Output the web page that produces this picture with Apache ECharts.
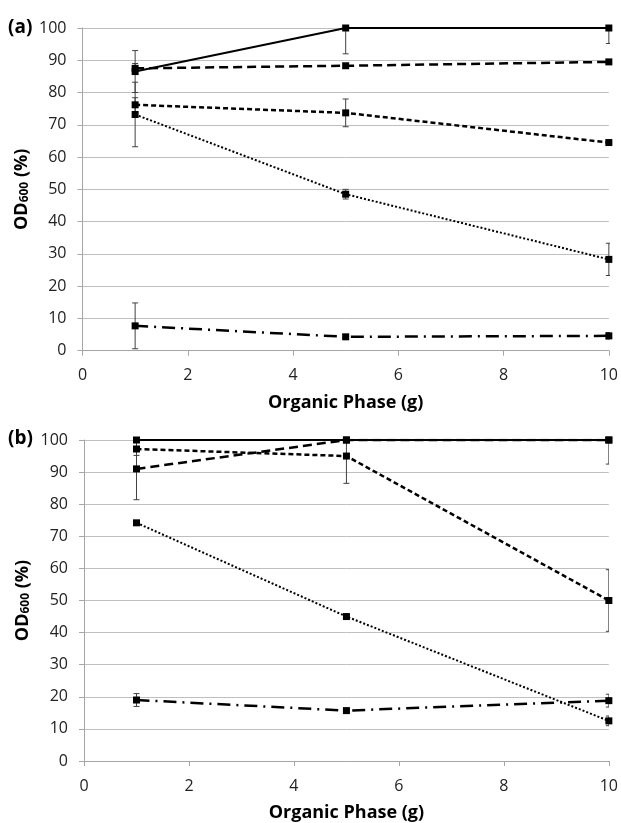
<!DOCTYPE html>
<html><head><meta charset="utf-8">
<script src="https://cdn.jsdelivr.net/npm/echarts@6/dist/echarts.min.js"></script>
<style>html,body{margin:0;padding:0;background:#fff}#c{width:621px;height:823px}</style>
</head><body><div id="c"></div>
<script>
const xVals = [1, 5, 10];
const xTicks = [0, 2, 4, 6, 8, 10];
const yTicks = [0, 10, 20, 30, 40, 50, 60, 70, 80, 90, 100];

// Panel (a)
const aSolid = [86.5, 100, 100];     const aSolidErr = [6.5, 8, 4.8];
const aLong = [87.5, 88.3, 89.5];    const aLongErr = [1.5, 0.5, 0.5];
const aMed = [76.2, 73.7, 64.5];     const aMedErr = [2.2, 4.3, 0.8];
const aDot = [73.2, 48.5, 28.3];     const aDotErr = [10, 1.5, 5];
const aDashDot = [7.7, 4.3, 4.6];    const aDashDotErr = [7.1, 0.5, 1];

// Panel (b)
const bSolid = [100, 100, 100];      const bSolidErr = [0.5, 0.5, 7.5];
const bLong = [91, 100, 100];        const bLongErr = [9.6, 0.5, 0.5];
const bMed = [97.2, 95, 50];         const bMedErr = [2, 8.5, 9.6];
const bDot = [74.2, 45, 12.5];       const bDotErr = [0.5, 0.5, 1.5];
const bDashDot = [19, 15.7, 18.8];   const bDashDotErr = [2, 0.5, 2];

const FONT = 'Open Sans';
const styles = {
  solid: {type: 'solid', width: 2},
  long: {type: [9, 5], width: 2.5},
  med: {type: [5, 3], width: 2.5},
  dot: {type: [2, 2], width: 2},
  dashdot: {type: [13, 6, 2, 6], width: 2.5}
};

function lineSeries(vals, style, gi) {
  return {
    type: 'line', xAxisIndex: gi, yAxisIndex: gi,
    data: xVals.map((x, i) => [x, vals[i]]),
    symbol: 'rect', symbolSize: 7, showSymbol: true,
    itemStyle: {color: '#000'},
    lineStyle: {color: '#000', width: styles[style].width, type: styles[style].type},
    z: 3, animation: false
  };
}
function errSeries(vals, errs, gi) {
  return {
    type: 'custom', xAxisIndex: gi, yAxisIndex: gi, clip: true, z: 2,
    data: xVals.map((x, i) => [x, vals[i] - errs[i], vals[i] + errs[i]]),
    renderItem: function (params, api) {
      const lo = api.coord([api.value(0), api.value(1)]);
      const hi = api.coord([api.value(0), api.value(2)]);
      const c = params.coordSys;
      const top = Math.max(hi[1], c.y), bot = Math.min(lo[1], c.y + c.height);
      const st = {stroke: '#404040', lineWidth: 1};
      const ch = [];
      ch.push({type: 'line', shape: {x1: lo[0], y1: top, x2: lo[0], y2: bot}, style: st});
      if (hi[1] >= c.y) ch.push({type: 'line', shape: {x1: hi[0] - 3, y1: hi[1], x2: hi[0] + 3, y2: hi[1]}, style: st});
      if (lo[1] <= c.y + c.height) ch.push({type: 'line', shape: {x1: lo[0] - 3, y1: lo[1], x2: lo[0] + 3, y2: lo[1]}, style: st});
      return {type: 'group', children: ch};
    },
    animation: false
  };
}

function xAxis(gi) {
  return {
    gridIndex: gi, type: 'value', min: 0, max: 10, interval: 2,
    name: 'Organic Phase (g)', nameLocation: 'middle', nameGap: 43,
    nameTextStyle: {fontFamily: FONT, fontWeight: 'bold', fontSize: 18, color: '#000'},
    axisLine: {show: true, lineStyle: {color: '#a6a6a6', width: 1}},
    axisTick: {show: true, length: 5, lineStyle: {color: '#a6a6a6'}},
    axisLabel: {fontFamily: FONT, fontSize: 16, color: '#222', margin: 17},
    splitLine: {show: false}
  };
}
function yAxis(gi) {
  return {
    gridIndex: gi, type: 'value', min: 0, max: 100, interval: 10,
    name: '{m|OD}{s|600}{m| (%)}', nameLocation: 'middle', nameGap: 52, nameRotate: 90,
    nameMoveOverlap: false,
    nameTextStyle: {rich: {
      m: {fontFamily: FONT, fontWeight: 'bold', fontSize: 18, color: '#000', verticalAlign: 'bottom', lineHeight: 24},
      s: {fontFamily: FONT, fontWeight: 'bold', fontSize: 12, color: '#000', verticalAlign: 'bottom', lineHeight: 17}
    }},
    axisLine: {show: true, lineStyle: {color: '#a6a6a6', width: 1}},
    axisTick: {show: true, length: 5, lineStyle: {color: '#a6a6a6'}},
    axisLabel: {fontFamily: FONT, fontSize: 16, color: '#222', margin: 16},
    splitLine: {show: true, lineStyle: {color: '#bfbfbf', width: 1}}
  };
}

const series = [];
const aSets = [[aSolid, aSolidErr, 'solid'], [aLong, aLongErr, 'long'], [aMed, aMedErr, 'med'], [aDot, aDotErr, 'dot'], [aDashDot, aDashDotErr, 'dashdot']];
const bSets = [[bSolid, bSolidErr, 'solid'], [bLong, bLongErr, 'long'], [bMed, bMedErr, 'med'], [bDot, bDotErr, 'dot'], [bDashDot, bDashDotErr, 'dashdot']];
aSets.forEach(s => series.push(errSeries(s[0], s[1], 0)));
aSets.forEach(s => series.push(lineSeries(s[0], s[2], 0)));
bSets.forEach(s => series.push(errSeries(s[0], s[1], 1)));
bSets.forEach(s => series.push(lineSeries(s[0], s[2], 1)));

const chart = echarts.init(document.getElementById('c'), null, {renderer: 'canvas'});
chart.setOption({
  animation: false,
  backgroundColor: '#fff',
  grid: [
    {left: 82.5, top: 28, width: 527.5, height: 322.7},
    {left: 84, top: 440, width: 525, height: 321}
  ],
  xAxis: [xAxis(0), xAxis(1)],
  yAxis: [yAxis(0), yAxis(1)],
  graphic: [
    {type: 'text', left: 8, top: 18, style: {text: '(a)', fontFamily: FONT, fontWeight: 'bold', fontSize: 19, fill: '#000'}},
    {type: 'text', left: 8, top: 429, style: {text: '(b)', fontFamily: FONT, fontWeight: 'bold', fontSize: 19, fill: '#000'}}
  ],
  series: series
});
</script></body></html>
